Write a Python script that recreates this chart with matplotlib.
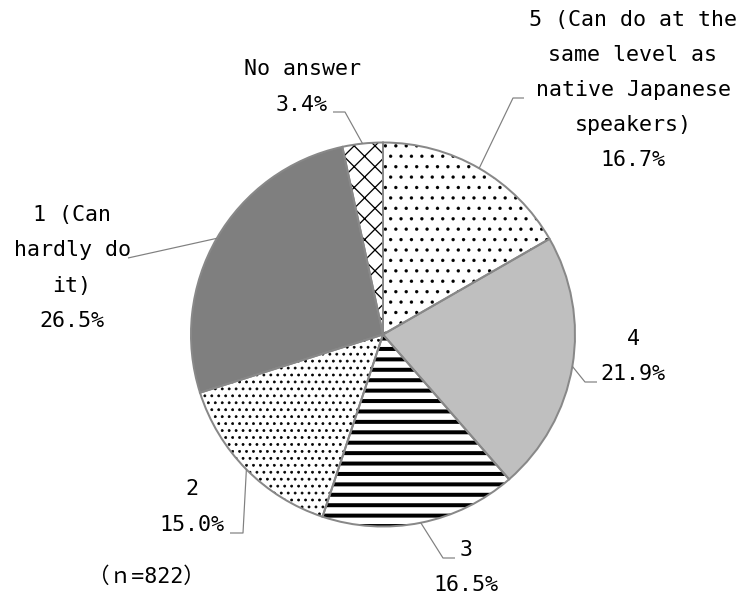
import matplotlib
matplotlib.use("Agg")
import matplotlib.pyplot as plt
import matplotlib.hatch as mhatch
import numpy as np

# ---- data ----
categories = ["5 (Can do at the\nsame level as\nnative Japanese\nspeakers)",
              "4", "3", "2", "1 (Can\nhardly do\nit)", "No answer"]
values = [16.7, 21.9, 16.5, 15.0, 26.5, 3.4]
n_total = 822

# ---- layout ----
D = 125
W, H = 747, 598
def pt(px):
    return px * 72.0 / D

fill_colors = ["white", "#BFBFBF", "white", "white", "#7F7F7F", "white"]
hatches = ["..", None, "--", "...", None, "xx"]
hatch_lw = [0.1, 0.5, pt(4.0), 0.4, 0.5, pt(1.3)]
mhatch.SmallFilledCircles.size = 0.15

# label centers (pixels, top-origin) and leader elbow/end points
label_pos = [(633, 90), (633, 356.5), (466, 567.5), (192, 507), (72, 268), (302, 87)]
leader_pts = [[(513, 98), (524, 98)],
              [(585, 382), (597, 382)],
              [(443, 558), (455, 558)],
              [(243, 533), (230, 533)],
              [(128, 258)],
              [(345, 112), (333, 112)]]

fig = plt.figure(figsize=(W / D, H / D), dpi=D)
ax = fig.add_axes([0, 0, 1, 1])
cx, cy, R = 383, H - 334.5, 192

wedges, _ = ax.pie(values, startangle=90, counterclock=False, center=(cx, cy),
                   radius=R, colors=fill_colors,
                   wedgeprops=dict(edgecolor="black", linewidth=0))
for w, h, hl in zip(wedges, hatches, hatch_lw):
    if h:
        w.set_hatch(h)
        if hasattr(w, "set_hatch_linewidth"):
            w.set_hatch_linewidth(hl)

ax.pie(values, startangle=90, counterclock=False, center=(cx, cy), radius=R,
       wedgeprops=dict(edgecolor="#888888", linewidth=pt(2.0), fill=False))

ax.set_xlim(0, W)
ax.set_ylim(0, H)
ax.set_aspect("equal")
ax.axis("off")

font = ["DejaVu Sans Mono", "Noto Sans CJK JP"]
fs = pt(21.6)
cum = 0.0
for i, (cat, v) in enumerate(zip(categories, values)):
    theta = np.deg2rad(90 - 3.6 * (cum + v / 2))
    cum += v
    ex, ey = cx + R * np.cos(theta), cy + R * np.sin(theta)
    xs = [ex] + [p[0] for p in leader_pts[i]]
    ys = [ey] + [H - p[1] for p in leader_pts[i]]
    ax.plot(xs, ys, color="#808080", lw=pt(1.2), solid_capstyle="butt", zorder=5)
    lx, ly = label_pos[i]
    ax.text(lx, H - ly, f"{cat}\n{v:.1f}%", ha="center", va="center",
            multialignment="center", fontsize=fs, family=font, linespacing=1.95)

ax.text(146, H - 577, f"（ｎ={n_total}）", ha="center", va="center",
        fontsize=fs, family=font)

fig.savefig("out.png", dpi=D)
